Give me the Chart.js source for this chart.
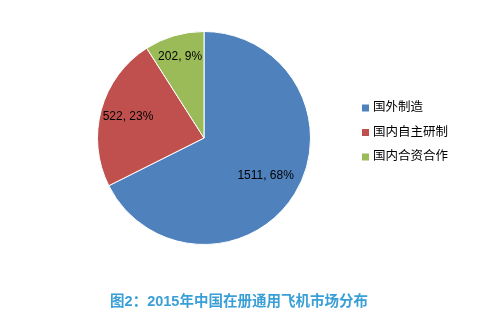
<!DOCTYPE html>
<html>
<head>
<meta charset="utf-8">
<script src="https://cdn.jsdelivr.net/npm/chart.js@4"></script>
<style>
  html, body { margin: 0; padding: 0; background: #fff; }
  #wrap { width: 498px; height: 331px; position: relative; }
</style>
</head>
<body>
<div id="wrap"><canvas id="pie-chart" width="498" height="331"></canvas></div>
<script>
const categories = ['国外制造', '国内自主研制', '国内合资合作'];
const counts = [1511, 522, 202];
const shares = ['68%', '23%', '9%'];
const colors = ['#4F81BD', '#C0504D', '#9BBB59'];
const chartTitle = '图2：2015年中国在册通用飞机市场分布';

const FONT = '"Liberation Sans", "Noto Sans CJK SC", sans-serif';

// labels on the slices, placed at a fraction of the radius
const labelRadius = [0.68, 0.74, 0.8];
const sliceLabels = {
  id: 'sliceLabels',
  afterDatasetsDraw(chart) {
    const ctx = chart.ctx;
    const arcs = chart.getDatasetMeta(0).data;
    ctx.save();
    ctx.font = '12px ' + FONT;
    ctx.fillStyle = '#000';
    ctx.textAlign = 'center';
    ctx.textBaseline = 'middle';
    arcs.forEach((arc, i) => {
      const mid = (arc.startAngle + arc.endAngle) / 2;
      const r = arc.outerRadius * labelRadius[i];
      ctx.fillText(counts[i] + ', ' + shares[i], arc.x + Math.cos(mid) * r, arc.y + Math.sin(mid) * r);
    });
    ctx.restore();
  }
};

// legend on the right + title under the pie
const sideLegend = {
  id: 'sideLegend',
  afterDraw(chart) {
    const ctx = chart.ctx;
    ctx.save();
    ctx.font = '12.5px ' + FONT;
    ctx.textBaseline = 'middle';
    categories.forEach((c, i) => {
      const y = 108 + i * 24.5;
      ctx.fillStyle = colors[i];
      ctx.fillRect(362, y - 3.5, 7, 7);
      ctx.fillStyle = '#000';
      ctx.fillText(c, 373, y);
    });
    ctx.font = 'bold 14.5px ' + FONT;
    ctx.fillStyle = '#3A9FD6';
    ctx.textAlign = 'center';
    ctx.fillText(chartTitle, 239, 302);
    ctx.restore();
  }
};

new Chart(document.getElementById('pie-chart').getContext('2d'), {
  type: 'pie',
  data: {
    labels: categories,
    datasets: [{
      data: counts,
      backgroundColor: colors,
      borderColor: '#fff',
      borderWidth: 1
    }]
  },
  options: {
    responsive: false,
    animation: false,
    layout: { padding: { left: 97, right: 187, top: 31, bottom: 86 } },
    plugins: {
      legend: { display: false },
      tooltip: { enabled: false }
    }
  },
  plugins: [sliceLabels, sideLegend]
});
</script>
</body>
</html>
